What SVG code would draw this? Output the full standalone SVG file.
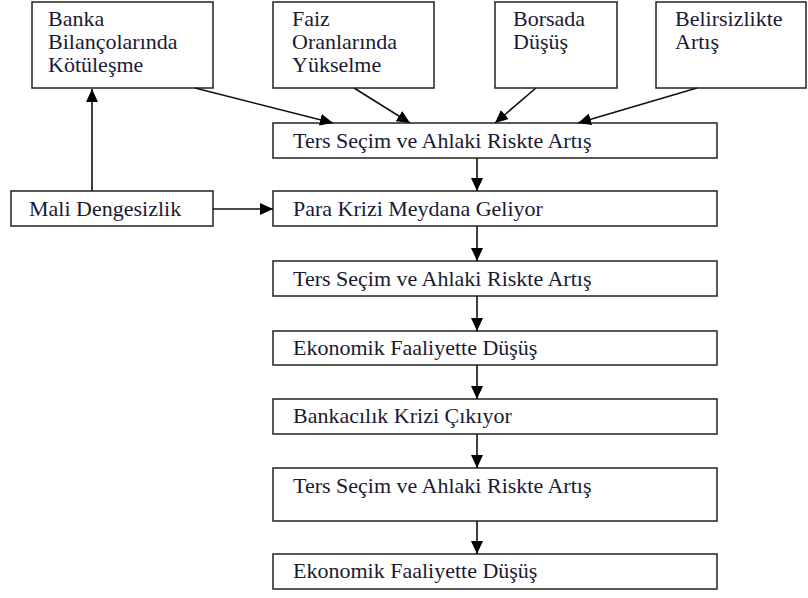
<svg xmlns="http://www.w3.org/2000/svg" width="808" height="598" viewBox="0 0 808 598">
<style>
.box{fill:#fff;stroke:#222;stroke-width:1.5}
.t{font-family:'Liberation Serif','DejaVu Serif',serif;font-size:22px;fill:#1a1a33}
.c{stroke:#111;stroke-width:1.6;fill:none;marker-end:url(#ah)}
</style>
<defs>
<marker id="ah" markerUnits="userSpaceOnUse" markerWidth="13" markerHeight="12" refX="13" refY="6" orient="auto">
<path d="M0,0 L13,6 L0,12 z" fill="#000"/>
</marker>
</defs>
<rect width="808" height="598" fill="#fff"/>
<g id="n1"><rect class="box" x="32" y="2" width="181" height="86"/><text class="t" x="48" y="26">Banka</text><text class="t" x="48" y="49">Bilançolarında</text><text class="t" x="48" y="72">Kötüleşme</text></g>
<g id="n2"><rect class="box" x="273" y="2" width="161" height="86"/><text class="t" x="292" y="26">Faiz</text><text class="t" x="292" y="49">Oranlarında</text><text class="t" x="292" y="72">Yükselme</text></g>
<g id="n3"><rect class="box" x="495" y="2" width="122" height="86"/><text class="t" x="513" y="26">Borsada</text><text class="t" x="513" y="49">Düşüş</text></g>
<g id="n4"><rect class="box" x="656" y="2" width="150" height="86"/><text class="t" x="675" y="26">Belirsizlikte</text><text class="t" x="675" y="49">Artış</text></g>
<g id="n5"><rect class="box" x="273" y="123" width="444" height="35"/><text class="t" x="293" y="148">Ters Seçim ve Ahlaki Riskte Artış</text></g>
<g id="n6"><rect class="box" x="11" y="191" width="202" height="35"/><text class="t" x="29" y="216">Mali Dengesizlik</text></g>
<g id="n7"><rect class="box" x="273" y="191" width="444" height="35"/><text class="t" x="293" y="216">Para Krizi Meydana Geliyor</text></g>
<g id="n8"><rect class="box" x="273" y="261" width="444" height="35"/><text class="t" x="293" y="286">Ters Seçim ve Ahlaki Riskte Artış</text></g>
<g id="n9"><rect class="box" x="273" y="331" width="444" height="34"/><text class="t" x="293" y="355">Ekonomik Faaliyette Düşüş</text></g>
<g id="n10"><rect class="box" x="273" y="399" width="444" height="35"/><text class="t" x="293" y="423">Bankacılık Krizi Çıkıyor</text></g>
<g id="n11"><rect class="box" x="273" y="468" width="444" height="53"/><text class="t" x="293" y="493">Ters Seçim ve Ahlaki Riskte Artış</text></g>
<g id="n12"><rect class="box" x="273" y="554" width="444" height="35"/><text class="t" x="293" y="578">Ekonomik Faaliyette Düşüş</text></g>
<g id="connectors">
<line class="c" x1="195" y1="88" x2="333" y2="123"/>
<line class="c" x1="354" y1="88" x2="410" y2="123"/>
<line class="c" x1="536" y1="88" x2="495" y2="123"/>
<line class="c" x1="697" y1="88" x2="578" y2="123"/>
<line class="c" x1="92" y1="191" x2="92" y2="89"/>
<line class="c" x1="213" y1="209" x2="273" y2="209"/>
<line class="c" x1="477" y1="158" x2="477" y2="191"/>
<line class="c" x1="477" y1="226" x2="477" y2="261"/>
<line class="c" x1="477" y1="296" x2="477" y2="331"/>
<line class="c" x1="477" y1="365" x2="477" y2="399"/>
<line class="c" x1="477" y1="434" x2="477" y2="468"/>
<line class="c" x1="477" y1="521" x2="477" y2="554"/>
</g>
</svg>
